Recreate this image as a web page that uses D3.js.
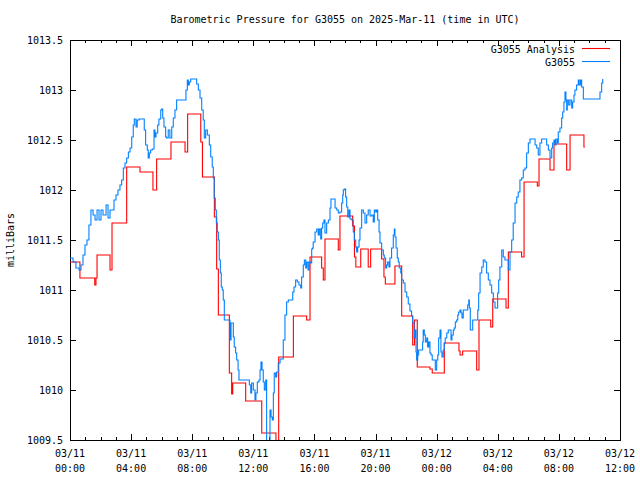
<!DOCTYPE html>
<html><head><meta charset="utf-8">
<script src="https://cdn.jsdelivr.net/npm/d3@7"></script>
<style>
body{margin:0;background:#fff;}
text{font-family:"DejaVu Sans Mono","Liberation Mono",monospace;font-size:10px;fill:#000;}
</style></head><body>
<svg id="chart" width="640" height="480"></svg>
<script>
// ---- data (hours since 2025-03-11 00:00 UTC, pressure in mbar) ----
const titleText = "Barometric Pressure for G3055 on 2025-Mar-11 (time in UTC)";
const yLabel = "milliBars";
const seriesNames = ["G3055 Analysis", "G3055"];
const yTicks = [1009.5, 1010, 1010.5, 1011, 1011.5, 1012, 1012.5, 1013, 1013.5];
const yTickLabels = ["1009.5","1010","1010.5","1011","1011.5","1012","1012.5","1013","1013.5"];
const xTickHours = [0, 4, 8, 12, 16, 20, 24, 28, 32, 36];
const xTickDates = ["03/11","03/11","03/11","03/11","03/11","03/11","03/12","03/12","03/12","03/12"];
const xTickTimes = ["00:00","04:00","08:00","12:00","16:00","20:00","00:00","04:00","08:00","12:00"];

const redHours = [0.00,0.65,1.62,1.70,1.77,2.62,2.75,3.71,4.58,5.43,5.67,6.61,7.53,7.70,8.56,8.67,9.45,9.60,9.71,10.43,10.58,10.65,11.50,12.55,13.48,13.66,14.62,15.49,15.71,16.47,16.58,16.69,17.56,17.67,18.50,18.62,18.71,19.03,19.52,19.68,20.40,20.55,20.64,21.27,21.71,22.43,22.55,22.73,23.56,23.71,24.50,25.46,25.53,25.70,26.62,26.77,27.54,27.67,28.54,28.69,29.56,29.72,30.59,30.70,31.42,31.68,32.51,32.73,33.64,33.70];
const redPressure = [1011.28,1011.12,1011.05,1011.12,1011.35,1011.20,1011.67,1012.23,1012.18,1012.00,1012.31,1012.48,1012.38,1012.76,1012.48,1012.13,1011.73,1011.21,1010.75,1010.17,1009.96,1010.07,1009.89,1009.57,1009.40,1010.33,1010.74,1010.70,1011.33,1011.22,1011.10,1011.51,1011.40,1011.74,1011.64,1011.33,1011.23,1011.41,1011.23,1011.41,1011.31,1011.13,1011.06,1011.24,1010.74,1010.45,1010.70,1010.23,1010.21,1010.17,1010.47,1010.39,1010.35,1010.39,1010.20,1010.70,1010.63,1010.91,1010.82,1011.38,1011.33,1012.08,1012.04,1012.31,1012.20,1012.46,1012.20,1012.55,1012.43,1012.43];

const blueHours = [0.00,0.20,0.39,0.59,0.72,0.85,0.98,1.11,1.24,1.37,1.51,1.64,1.77,1.90,2.03,2.16,2.36,2.49,2.62,2.75,2.88,3.01,3.14,3.27,3.38,3.49,3.60,3.71,3.82,3.93,4.04,4.14,4.21,4.32,4.40,4.52,4.80,4.86,4.95,5.06,5.12,5.19,5.28,5.39,5.50,5.56,5.63,5.74,5.82,5.94,6.00,6.07,6.15,6.26,6.33,6.43,6.54,6.66,6.76,6.87,6.98,7.53,7.59,7.68,7.74,7.81,7.90,8.18,8.29,8.40,8.51,8.62,8.72,8.79,8.88,8.99,9.12,9.21,9.31,9.38,9.44,9.51,9.58,9.64,9.71,9.77,9.84,9.90,9.97,10.03,10.10,10.43,10.47,10.54,10.62,10.69,10.75,10.84,10.91,11.00,11.06,11.67,11.74,11.83,11.89,12.00,12.11,12.17,12.26,12.37,12.44,12.50,12.57,12.65,12.72,12.81,12.87,12.98,13.09,13.16,13.24,13.31,13.37,13.46,13.53,13.63,13.75,13.92,13.96,14.07,14.18,14.29,14.51,14.58,14.66,14.77,14.88,14.99,15.10,15.16,15.27,15.34,15.43,15.49,15.58,15.66,15.75,15.82,15.88,15.92,16.04,16.15,16.25,16.32,16.41,16.47,16.54,16.62,16.69,16.80,16.91,17.02,17.08,17.28,17.35,17.46,17.56,17.67,17.78,17.85,17.89,17.95,18.04,18.11,18.18,18.26,18.33,18.44,18.54,18.61,18.70,18.76,18.83,18.92,18.98,19.09,19.20,19.31,19.42,19.52,19.64,19.75,19.85,19.92,20.01,20.07,20.14,20.23,20.29,20.40,20.51,20.57,20.66,20.73,20.79,20.88,20.94,21.05,21.16,21.23,21.27,21.34,21.42,21.49,21.55,21.65,21.71,21.82,21.93,22.04,22.14,22.25,22.36,22.43,22.52,22.58,22.65,22.69,22.76,22.82,23.02,23.08,23.12,23.19,23.26,23.35,23.41,23.48,23.56,23.63,23.71,23.82,23.91,24.00,24.07,24.13,24.22,24.28,24.35,24.43,24.50,24.56,24.66,24.76,24.87,24.94,25.00,25.09,25.15,25.22,25.31,25.38,25.44,25.53,25.59,25.66,25.74,25.97,26.03,26.10,26.14,26.20,26.31,26.36,26.62,26.69,26.75,26.84,26.95,27.05,27.16,27.27,27.38,27.49,27.60,27.71,27.82,27.93,27.99,28.06,28.14,28.26,28.36,28.47,28.58,28.69,28.80,28.91,29.01,29.13,29.24,29.34,29.45,29.56,29.67,29.78,29.89,30.00,30.11,30.37,30.44,30.55,30.65,30.76,30.87,31.16,31.20,31.31,31.42,31.53,31.59,31.68,31.74,31.81,31.90,31.96,32.07,32.18,32.25,32.33,32.40,32.46,32.51,32.55,32.64,32.73,32.84,32.90,32.99,33.05,33.16,33.27,33.33,33.42,33.49,33.60,34.58,34.69,34.80,34.87];
const bluePressure = [1011.32,1011.28,1011.22,1011.20,1011.25,1011.35,1011.45,1011.50,1011.65,1011.80,1011.75,1011.70,1011.80,1011.70,1011.80,1011.75,1011.85,1011.72,1011.80,1011.80,1011.90,1011.95,1012.00,1012.05,1012.10,1012.22,1012.27,1012.32,1012.38,1012.42,1012.53,1012.65,1012.71,1012.63,1012.70,1012.71,1012.71,1012.60,1012.45,1012.40,1012.32,1012.37,1012.40,1012.41,1012.60,1012.53,1012.57,1012.65,1012.71,1012.80,1012.81,1012.72,1012.63,1012.53,1012.52,1012.60,1012.52,1012.63,1012.72,1012.80,1012.90,1012.90,1013.00,1013.10,1013.05,1013.08,1013.11,1013.11,1013.06,1013.00,1012.92,1012.80,1012.70,1012.52,1012.60,1012.55,1012.45,1012.33,1012.23,1012.12,1011.92,1011.80,1011.67,1011.58,1011.50,1011.30,1011.17,1011.03,1011.00,1010.90,1010.70,1010.70,1010.50,1010.67,1010.67,1010.53,1010.43,1010.37,1010.30,1010.20,1010.10,1010.10,1010.05,1009.97,1010.07,1010.00,1009.90,1009.97,1010.08,1010.10,1010.20,1010.28,1010.20,1010.08,1010.00,1010.10,1009.45,1009.45,1009.80,1009.73,1009.70,1009.97,1010.17,1010.13,1010.18,1010.27,1010.31,1010.31,1010.50,1010.75,1010.88,1010.90,1010.90,1010.98,1011.03,1011.10,1011.08,1011.05,1011.02,1011.13,1011.25,1011.30,1011.22,1011.28,1011.20,1011.28,1011.27,1011.41,1011.42,1011.48,1011.58,1011.61,1011.55,1011.61,1011.51,1011.62,1011.67,1011.70,1011.57,1011.67,1011.70,1011.82,1011.91,1011.91,1011.82,1011.80,1011.77,1011.78,1011.87,1011.95,1012.00,1012.01,1011.93,1011.83,1011.73,1011.80,1011.71,1011.70,1011.58,1011.50,1011.43,1011.38,1011.43,1011.50,1011.62,1011.80,1011.77,1011.67,1011.75,1011.80,1011.74,1011.75,1011.68,1011.80,1011.78,1011.80,1011.70,1011.58,1011.47,1011.40,1011.35,1011.32,1011.22,1011.25,1011.28,1011.23,1011.32,1011.42,1011.55,1011.61,1011.53,1011.42,1011.32,1011.28,1011.22,1011.17,1011.10,1011.07,1010.98,1010.93,1010.86,1010.79,1010.74,1010.67,1010.52,1010.60,1010.38,1010.30,1010.35,1010.40,1010.40,1010.48,1010.60,1010.55,1010.48,1010.52,1010.43,1010.48,1010.37,1010.35,1010.30,1010.30,1010.20,1010.30,1010.35,1010.52,1010.60,1010.38,1010.33,1010.40,1010.47,1010.52,1010.57,1010.60,1010.60,1010.50,1010.55,1010.60,1010.62,1010.68,1010.70,1010.75,1010.78,1010.80,1010.77,1010.72,1010.80,1010.80,1010.85,1010.90,1010.82,1010.60,1010.60,1010.70,1010.70,1010.80,1010.97,1011.17,1011.23,1011.30,1011.28,1011.17,1011.10,1011.05,1010.97,1010.88,1010.82,1010.82,1010.97,1011.10,1011.23,1011.40,1011.33,1011.30,1011.30,1011.20,1011.38,1011.50,1011.67,1011.87,1011.93,1011.98,1012.10,1012.12,1012.20,1012.22,1012.37,1012.47,1012.51,1012.51,1012.45,1012.42,1012.35,1012.47,1012.51,1012.51,1012.45,1012.40,1012.32,1012.42,1012.47,1012.50,1012.45,1012.51,1012.47,1012.58,1012.62,1012.72,1012.78,1012.88,1012.98,1012.90,1012.80,1012.90,1012.85,1012.90,1012.82,1012.88,1012.95,1013.00,1013.05,1013.10,1013.05,1013.10,1013.03,1012.91,1012.91,1012.98,1013.07,1013.11];

// ---- layout ----
const W = 640, H = 480;
const L = 70, R = 620, T = 40, B = 440;
const svg = d3.select("#chart");
svg.append("rect").attr("width", W).attr("height", H).attr("fill", "#fff");

const x = d3.scaleLinear().domain([0, 36]).range([L, R]);
const y = d3.scaleLinear().domain([1009.5, 1013.5]).range([B, T]);

const minorHours = d3.range(0, 37, 1).filter(h => h % 4 !== 0);

svg.append("defs").append("clipPath").attr("id", "plotclip")
  .append("rect").attr("x", L).attr("y", T).attr("width", R - L).attr("height", B - T);

function styleAxis(g) {
  g.select(".domain").remove();
  g.selectAll("line").attr("stroke", "#000").attr("shape-rendering", "crispEdges");
}

// left axis
svg.append("g").attr("transform", `translate(${L},0)`)
  .call(d3.axisLeft(y).tickValues(yTicks).tickSize(-6).tickSizeOuter(0).tickPadding(7)
    .tickFormat((d, i) => yTickLabels[i]))
  .call(styleAxis)
  .call(g => g.selectAll("text").style("font-family", null).style("font-size", null).attr("fill", "#000"));
// right axis (mirrored ticks)
svg.append("g").attr("transform", `translate(${R},0)`)
  .call(d3.axisRight(y).tickValues(yTicks).tickSize(-6).tickSizeOuter(0).tickFormat(""))
  .call(styleAxis);
// bottom axis
const bottom = svg.append("g").attr("transform", `translate(0,${B})`)
  .call(d3.axisBottom(x).tickValues(xTickHours).tickSize(-6).tickSizeOuter(0).tickFormat(""))
  .call(styleAxis);
svg.append("g").attr("transform", `translate(0,${B})`)
  .call(d3.axisBottom(x).tickValues(minorHours).tickSize(-3).tickSizeOuter(0).tickFormat(""))
  .call(styleAxis);
// top axis
svg.append("g").attr("transform", `translate(0,${T})`)
  .call(d3.axisTop(x).tickValues(xTickHours).tickSize(-6).tickSizeOuter(0).tickFormat(""))
  .call(styleAxis);
svg.append("g").attr("transform", `translate(0,${T})`)
  .call(d3.axisTop(x).tickValues(minorHours).tickSize(-3).tickSizeOuter(0).tickFormat(""))
  .call(styleAxis);

// x tick labels (two lines)
const xl = svg.append("g");
xTickHours.forEach((h, i) => {
  const t = xl.append("text").attr("x", x(h)).attr("text-anchor", "middle");
  t.append("tspan").attr("x", x(h)).attr("y", 457).text(xTickDates[i]);
  t.append("tspan").attr("x", x(h)).attr("y", 472).text(xTickTimes[i]);
});

// frame
svg.append("rect").attr("x", L + 0.5).attr("y", T + 0.5).attr("width", R - L).attr("height", B - T)
  .attr("fill", "none").attr("stroke", "#000").attr("stroke-width", 1);

// lines
const redData = redHours.map((h, i) => [h, redPressure[i]]);
const blueData = blueHours.map((h, i) => [h, bluePressure[i]]);
const line = d3.line().x(d => x(d[0])).y(d => y(d[1])).curve(d3.curveStepAfter);
const plot = svg.append("g").attr("clip-path", "url(#plotclip)");
plot.append("path").datum(redData).attr("d", line).attr("fill", "none").attr("stroke", "#ff0000").attr("stroke-width", 1.1);
plot.append("path").datum(blueData).attr("d", line).attr("fill", "none").attr("stroke", "#0080ff").attr("stroke-width", 1.1);

// title
svg.append("text").attr("x", 345).attr("y", 23).attr("text-anchor", "middle").text(titleText);
// y label
svg.append("text").attr("transform", "translate(14,240) rotate(-90)").attr("text-anchor", "middle").text(yLabel);

// legend
const legColors = ["#ff0000", "#0080ff"];
seriesNames.forEach((n, i) => {
  const yy = 53 + i * 13;
  svg.append("text").attr("x", 575).attr("y", yy).attr("text-anchor", "end").text(n);
  svg.append("line").attr("x1", 582).attr("x2", 610).attr("y1", yy - 4.5).attr("y2", yy - 4.5)
    .attr("stroke", legColors[i]).attr("stroke-width", 1.1);
});
</script>
</body></html>
